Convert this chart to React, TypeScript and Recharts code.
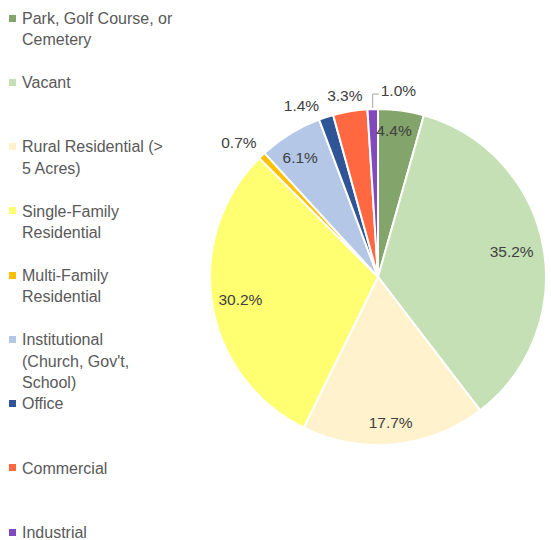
import { PieChart, Pie, Cell, Legend } from "recharts";

const categories = [
  "Park, Golf Course, or Cemetery",
  "Vacant",
  "Rural Residential (> 5 Acres)",
  "Single-Family Residential",
  "Multi-Family Residential",
  "Institutional (Church, Gov't, School)",
  "Office",
  "Commercial",
  "Industrial",
];

const shares = [4.4, 35.2, 17.7, 30.2, 0.7, 6.1, 1.4, 3.3, 1.0];

const legendLines = [
  ["Park, Golf Course, or", "Cemetery"],
  ["Vacant"],
  ["Rural Residential (>", "5 Acres)"],
  ["Single-Family", "Residential"],
  ["Multi-Family", "Residential"],
  ["Institutional", "(Church, Gov't,", "School)"],
  ["Office"],
  ["Commercial"],
  ["Industrial"],
];

const colors = [
  "#83A46B",
  "#C5E0B4",
  "#FFF2CC",
  "#FFFF71",
  "#FFC000",
  "#B4C7E7",
  "#2F5597",
  "#FF6840",
  "#8149BD",
];

// label placement: radius factor and small angle nudge (deg, clockwise)
const labelRadius = [0.88, 0.81, 0.87, 0.83, 1.15, 0.85, 1.12, 1.1, 1.0];
const labelShift = [-1.7, 0, 0.6, 0, -2.3, -1.5, -6, -0.8, 0];

const data = categories.map((name, i) => ({ name, value: shares[i] }));

const FONT = "'Liberation Sans', Arial, sans-serif";
const RAD = Math.PI / 180;

const renderLabel = (props: any) => {
  const { cx, cy, midAngle, outerRadius, index, value } = props;
  const text = `${Number(value).toFixed(1)}%`;
  if (index === 8) {
    const a = (90 - midAngle) * RAD;
    const x0 = cx + outerRadius * Math.sin(a);
    const y0 = cy - outerRadius * Math.cos(a);
    return (
      <g>
        <polyline
          points={`${x0},${y0 - 1} ${x0},${y0 - 15} ${x0 + 6},${y0 - 15}`}
          fill="none"
          stroke="#A6A6A6"
          strokeWidth={1}
        />
        <text x={x0 + 8} y={y0 - 19} fill="#404040" fontSize={15.5} fontFamily={FONT} textAnchor="start" dominantBaseline="central">
          {text}
        </text>
      </g>
    );
  }
  const a = (90 - midAngle + labelShift[index]) * RAD;
  const r = outerRadius * labelRadius[index];
  const x = cx + r * Math.sin(a);
  const y = cy - r * Math.cos(a);
  return (
    <text x={x} y={y} fill="#404040" fontSize={15.5} fontFamily={FONT} textAnchor="middle" dominantBaseline="central">
      {text}
    </text>
  );
};

const LegendContent = ({ payload }: any) => (
  <div style={{ position: "relative", fontFamily: FONT, fontSize: 16, color: "#595959" }}>
    {(payload || []).map((item: any, i: number) => (
      <div key={i} style={{ position: "absolute", left: 0, top: i * 64.25, width: 200 }}>
        <span
          style={{
            position: "absolute",
            left: 9,
            top: 6.5,
            width: 7,
            height: 7,
            background: colors[i],
          }}
        />
        {legendLines[i].map((ln, j) => (
          <div
            key={j}
            style={{ position: "absolute", left: 22, top: 4.75 + j * 21.5, lineHeight: "12px", whiteSpace: "nowrap" }}
          >
            {ln}
          </div>
        ))}
      </div>
    ))}
  </div>
);

export default function App() {
  return (
    <div style={{ position: "absolute", left: 0, top: 0, width: 551, height: 540, background: "#fff" }}>
      <PieChart width={551} height={540} margin={{ top: 0, right: 0, bottom: 0, left: 0 }}>
        <Pie
          data={data}
          dataKey="value"
          nameKey="name"
          cx={378}
          cy={277}
          outerRadius={168}
          startAngle={90}
          endAngle={-270}
          stroke="#FFFFFF"
          strokeWidth={2}
          label={renderLabel}
          labelLine={false}
          isAnimationActive={false}
        >
          {data.map((d, i) => (
            <Cell key={d.name} fill={colors[i]} />
          ))}
        </Pie>
        <Legend
          content={<LegendContent />}
          wrapperStyle={{ position: "absolute", left: 0, top: 8, width: 200, height: 530 }}
        />
      </PieChart>
    </div>
  );
}
